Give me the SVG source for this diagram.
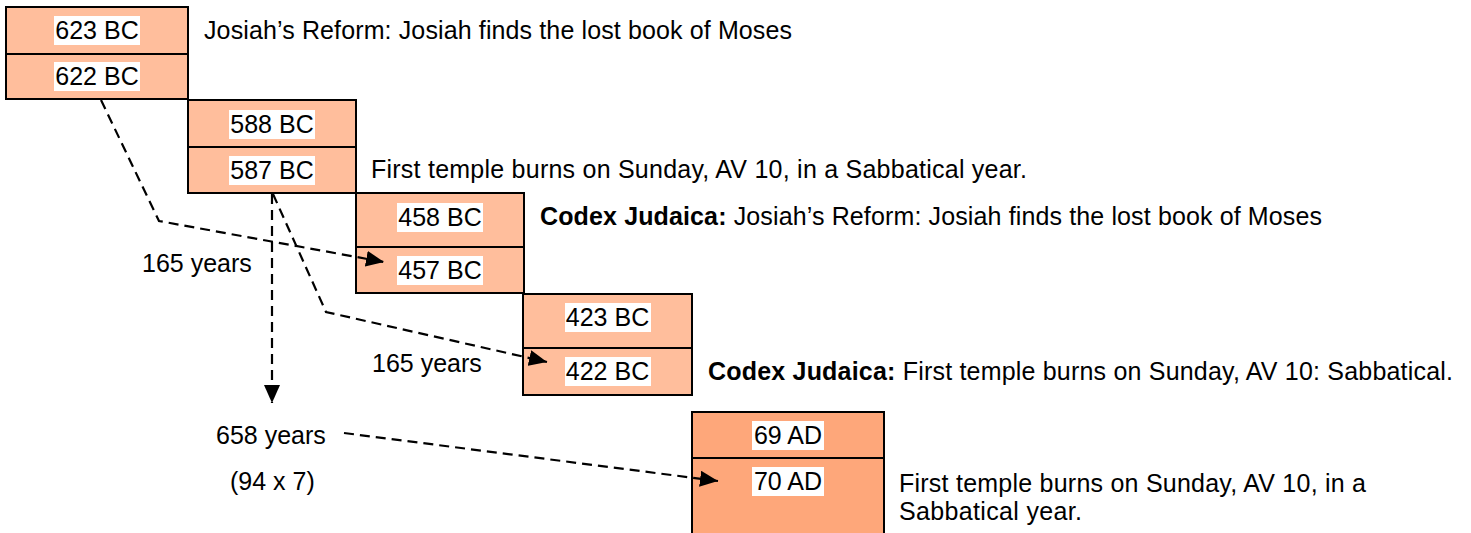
<svg xmlns="http://www.w3.org/2000/svg" width="1471" height="533" viewBox="0 0 1471 533">
  <style>
    text { font-family: "Liberation Sans", Arial, sans-serif; font-size: 25px; fill: #000; }
    .c { text-anchor: middle; }
    .b { font-weight: bold; }
    .box { fill: #FFBE9C; stroke: #000; stroke-width: 2; }
    .box5 { fill: #FEA77A; stroke: #000; stroke-width: 2; }
    .div { stroke: #000; stroke-width: 2; }
    .lbl { fill: #FFFFFF; }
    .dash { fill: none; stroke: #000; stroke-width: 2.2; stroke-dasharray: 10 6; }
  </style>
  <defs>
    <marker id="ah" markerUnits="userSpaceOnUse" markerWidth="20" markerHeight="16" refX="18" refY="8" orient="auto">
      <path d="M0,0 L18,8 L0,16 Z" fill="#000"/>
    </marker>
  </defs>
  <rect width="1471" height="533" fill="#FFFFFF"/>

  <g id="node-623-622">
    <rect class="box" x="6" y="7" width="182" height="92"/>
    <line class="div" x1="6" y1="54" x2="188" y2="54"/>
    <rect class="lbl" x="54" y="16" width="86" height="29"/>
    <text class="c" x="97" y="39">623 BC</text>
    <rect class="lbl" x="54" y="62" width="86" height="29"/>
    <text class="c" x="97" y="85">622 BC</text>
  </g>
  <g id="node-588-587">
    <rect class="box" x="188" y="100" width="168" height="93"/>
    <line class="div" x1="188" y1="147" x2="356" y2="147"/>
    <rect class="lbl" x="229" y="110" width="86" height="29"/>
    <text class="c" x="272" y="133">588 BC</text>
    <rect class="lbl" x="229" y="156" width="86" height="29"/>
    <text class="c" x="272" y="179">587 BC</text>
  </g>
  <g id="node-458-457">
    <rect class="box" x="356" y="193" width="168" height="100"/>
    <line class="div" x1="356" y1="247" x2="524" y2="247"/>
    <rect class="lbl" x="397" y="203" width="86" height="29"/>
    <text class="c" x="440" y="226">458 BC</text>
    <rect class="lbl" x="397" y="256" width="86" height="29"/>
    <text class="c" x="440" y="279">457 BC</text>
  </g>
  <g id="node-423-422">
    <rect class="box" x="523" y="294" width="169" height="101"/>
    <line class="div" x1="523" y1="348" x2="692" y2="348"/>
    <rect class="lbl" x="565" y="303" width="86" height="29"/>
    <text class="c" x="607.5" y="326">423 BC</text>
    <rect class="lbl" x="565" y="357" width="86" height="29"/>
    <text class="c" x="607.5" y="380">422 BC</text>
  </g>
  <g id="node-69-70">
    <rect class="box5" x="692" y="412" width="192" height="130"/>
    <line class="div" x1="692" y1="458" x2="884" y2="458"/>
    <rect class="lbl" x="752" y="421" width="72" height="29"/>
    <text class="c" x="788" y="444">69 AD</text>
    <rect class="lbl" x="752" y="467" width="72" height="29"/>
    <text class="c" x="788" y="490">70 AD</text>
  </g>

  <g id="connectors">
    <polyline class="dash" points="101,100 159,221 384,262" marker-end="url(#ah)"/>
    <polyline class="dash" points="273,194 326,312 547,362" marker-end="url(#ah)"/>
    <line class="dash" x1="272" y1="194" x2="272" y2="403" marker-end="url(#ah)"/>
    <line class="dash" x1="344" y1="433" x2="718" y2="481" marker-end="url(#ah)"/>
  </g>

  <g id="labels">
    <text x="204" y="39" textLength="588" lengthAdjust="spacing">Josiah’s Reform: Josiah finds the lost book of Moses</text>
    <text x="371" y="178" textLength="656" lengthAdjust="spacing">First temple burns on Sunday, AV 10, in a Sabbatical year.</text>
    <text x="540" y="225" textLength="782" lengthAdjust="spacing"><tspan class="b">Codex Judaica:</tspan> Josiah’s Reform: Josiah finds the lost book of Moses</text>
    <text x="142" y="272">165 years</text>
    <text x="372" y="372">165 years</text>
    <text x="708" y="380" textLength="745" lengthAdjust="spacing"><tspan class="b">Codex Judaica:</tspan> First temple burns on Sunday, AV 10: Sabbatical.</text>
    <text x="216" y="444">658 years</text>
    <text x="230" y="490">(94 x 7)</text>
    <text x="899" y="492" textLength="467" lengthAdjust="spacing">First temple burns on Sunday, AV 10, in a</text>
    <text x="899" y="520" textLength="183" lengthAdjust="spacing">Sabbatical year.</text>
  </g>
</svg>
